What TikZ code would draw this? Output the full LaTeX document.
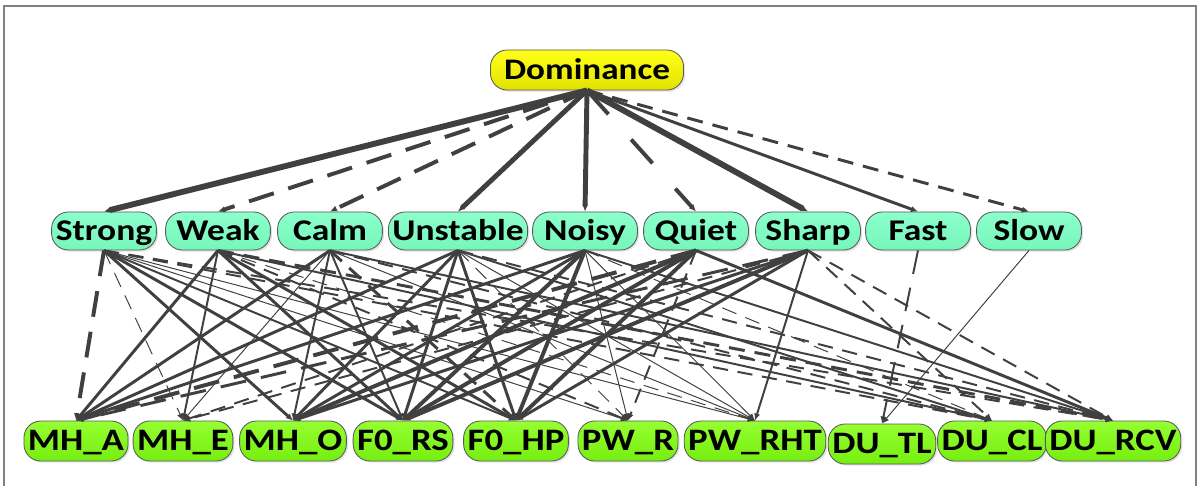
\documentclass[tikz,border=0pt]{standalone}
\usepackage{fontspec}
\setmainfont{Carlito}[FakeStretch=1.18]
\usepackage{tikz}
\usetikzlibrary{arrows.meta,shadows}
\definecolor{domtop}{RGB}{255,255,25}
\definecolor{domlow}{RGB}{226,226,0}
\definecolor{traittop}{RGB}{140,255,204}
\definecolor{traitlow}{RGB}{118,246,186}
\definecolor{feattop}{RGB}{150,255,50}
\definecolor{featlow}{RGB}{118,238,16}
\definecolor{linkgray}{RGB}{64,64,64}
\definecolor{framegray}{RGB}{128,128,128}

\begin{document}
\begin{tikzpicture}[x=0.025cm, y=-0.025cm,
  every node/.style={text=black},
  pill/.style={draw=black!65, line width=0.6pt, rounded corners=0.42cm, inner ysep=0pt,
    text height=0.48cm, text depth=0pt,
    drop shadow={shadow xshift=1.2pt, shadow yshift=-1.2pt, opacity=0.22}},
  root/.style={pill, font=\fontsize{21.2}{24}\selectfont\bfseries, top color=domtop, bottom color=domlow,
    minimum height=1cm, inner xsep=0.34cm},
  trait/.style={pill, font=\fontsize{21.4}{24}\selectfont\bfseries, top color=traittop, bottom color=traitlow,
    minimum height=0.95cm, minimum width=2.62cm, inner xsep=0.1cm},
  feat/.style={pill, font=\fontsize{22.2}{25}\selectfont\bfseries, top color=feattop, bottom color=featlow,
    minimum height=1cm, inner xsep=0.1cm},
  link/.style={draw=linkgray, -{Latex[length=5pt,width=4.5pt]}},
  s1/.style={link, line width=0.7pt},
  s2/.style={link, line width=1.4pt},
  s3/.style={link, line width=2.1pt},
  s4/.style={link, line width=2.8pt},
  s5/.style={link, line width=3.5pt},
  s6/.style={link, line width=4.2pt},
  ds1/.style={s1, dash pattern=on 0.38cm off 0.24cm},
  ds2/.style={s2, dash pattern=on 0.38cm off 0.24cm},
  ds3/.style={s3, dash pattern=on 0.4cm off 0.25cm},
  dl2/.style={s2, dash pattern=on 0.6cm off 0.35cm},
  dl3/.style={s3, dash pattern=on 0.65cm off 0.38cm},
  dl4/.style={s4, dash pattern=on 0.65cm off 0.38cm},
  dx4/.style={s4, dash pattern=on 0.8cm off 0.85cm}
]
  \useasboundingbox (0,0) rectangle (1200,486);
  \draw[framegray, line width=1.2pt] (4,486) |- (1196,6) -- (1196,486);

  \def\rowT{70}\def\rowM{231}\def\rowB{441}

  % top
  \node[root] (dom) at (587,\rowT) {Dominance};

  % perceived traits
  \node[trait] (strong)   at (104,\rowM)  {Strong};
  \node[trait] (weak)     at (218,\rowM)  {Weak};
  \node[trait] (calm)     at (330,\rowM)  {Calm};
  \node[trait] (unstable) at (458,\rowM)  {Unstable};
  \node[trait] (noisy)    at (585,\rowM)  {Noisy};
  \node[trait] (quiet)    at (696,\rowM)  {Quiet};
  \node[trait] (sharp)    at (808,\rowM)  {Sharp};
  \node[trait] (fast)     at (918,\rowM)  {Fast};
  \node[trait] (slow)     at (1029,\rowM) {Slow};

  % acoustic features
  \node[feat] (mha)   at (76,\rowB)   {MH\_A};
  \node[feat] (mhe)   at (183,\rowB)  {MH\_E};
  \node[feat] (mho)   at (293,\rowB)  {MH\_O};
  \node[feat] (f0rs)  at (403,\rowB)  {F0\_RS};
  \node[feat] (f0hp)  at (516,\rowB)  {F0\_HP};
  \node[feat] (pwr)   at (628,\rowB)  {PW\_R};
  \node[feat] (pwrht) at (755,\rowB)  {PW\_RHT};
  \node[feat] (dutl)  at (882,444)    {DU\_TL};
  \node[feat] (ducl)  at (992,\rowB)  {DU\_CL};
  \node[feat] (durcv) at (1113,\rowB) {DU\_RCV};

  % dominance -> traits
  \foreach \b in {strong,sharp} \draw[s6] (dom.south) -- (\b.north);
  \foreach \b in {unstable,noisy} \draw[s5] (dom.south) -- (\b.north);
  \foreach \b in {weak,calm} \draw[dl4] (dom.south) -- (\b.north);
  \draw[dx4] (dom.south) -- (quiet.north);
  \draw[s3] (dom.south) -- (fast.north);
  \draw[ds3] (dom.south) -- (slow.north);

  % traits -> features, grouped by weight
  \foreach \a/\b in {noisy/f0rs, noisy/f0hp, quiet/mho, quiet/f0rs, quiet/f0hp, sharp/f0rs}
    \draw[s4] (\a.south) -- (\b.north);
  \foreach \a/\b in {strong/mho, strong/f0rs, weak/mha, weak/f0rs, weak/f0hp, calm/mha,
      unstable/mha, unstable/mho, unstable/f0rs, unstable/f0hp, noisy/mha, noisy/mho,
      quiet/durcv, sharp/mho, sharp/f0hp}
    \draw[s3] (\a.south) -- (\b.north);
  \foreach \a/\b in {strong/f0hp, weak/mhe, weak/ducl, calm/mho, calm/f0rs, calm/durcv,
      unstable/ducl, noisy/durcv, sharp/pwrht}
    \draw[s2] (\a.south) -- (\b.north);
  \foreach \a/\b in {strong/pwr, strong/pwrht, calm/mhe, calm/pwrht, unstable/pwrht,
      noisy/pwr, noisy/pwrht, slow/dutl}
    \draw[s1] (\a.south) -- (\b.north);
  \foreach \a/\b in {strong/ducl, strong/durcv, weak/pwr, calm/ducl, unstable/durcv,
      quiet/mhe, quiet/pwr, sharp/mhe, sharp/ducl, sharp/durcv}
    \draw[ds2] (\a.south) -- (\b.north);
  \foreach \a/\b in {strong/mhe, unstable/pwr, noisy/ducl, weak/pwrht}
    \draw[ds1] (\a.south) -- (\b.north);
  \foreach \a/\b in {weak/durcv, calm/f0hp}
    \draw[ds3] (\a.south) -- (\b.north);
  \foreach \a/\b in {strong/mha, quiet/mha}
    \draw[dl4] (\a.south) -- (\b.north);
  \draw[dl3] (sharp.south) -- (mha.north);
  \draw[dl2] (fast.south) -- (dutl.north);
\end{tikzpicture}
\end{document}
